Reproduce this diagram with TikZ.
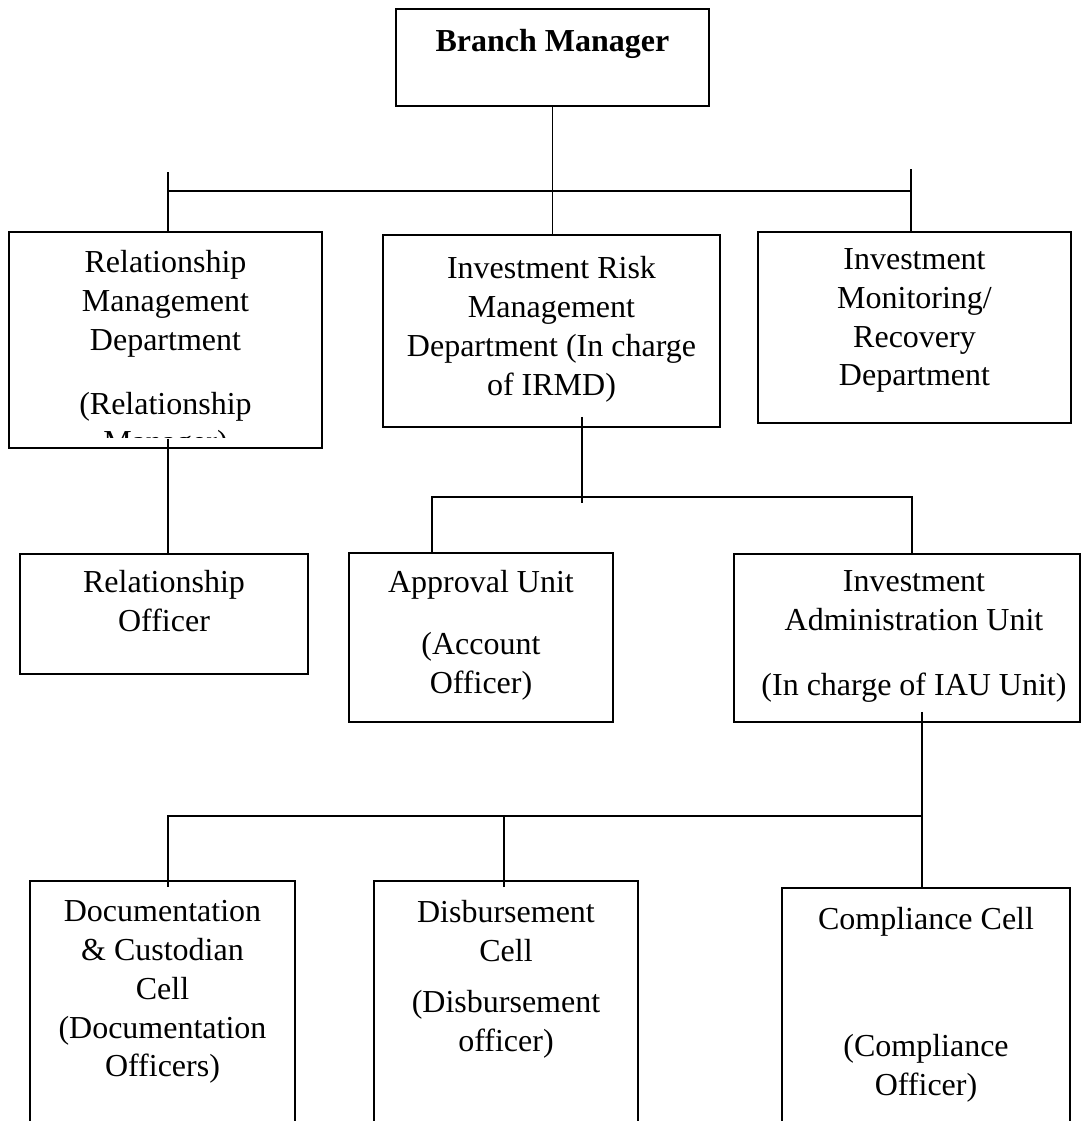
\documentclass[tikz,border=0pt]{standalone}
\usepackage{fontspec}
\setmainfont{Liberation Serif}
\usepackage{tikz}
\usetikzlibrary{positioning}

\begin{document}
\begin{tikzpicture}[x=0.5pt, y=-0.5pt, font=\fontsize{16}{19.4}\selectfont, every node/.style={inner sep=0pt}]
        \tikzset{
            box/.style={draw, line width=0.9pt},
            txt/.style={align=center},
            ln/.style={line width=0.8pt}
        }
        \clip (0,0) rectangle (1082,1121);
        \node[box, minimum width=156.5pt, minimum height=48.5pt] (bm) at (552.5,57.5) {};
        \node[box, minimum width=156.5pt, minimum height=108pt] (rmd) at (165.5,340) {};
        \node[box, minimum width=168.5pt, minimum height=96pt] (irmd) at (551.5,331) {};
        \node[box, minimum width=156.5pt, minimum height=95.5pt] (imrd) at (914.5,327.5) {};
        \node[box, minimum width=144pt, minimum height=60pt] (ro) at (164,614) {};
        \node[box, minimum width=132pt, minimum height=84.5pt] (au) at (481,637.5) {};
        \node[box, minimum width=173pt, minimum height=84pt] (iau) at (907,638) {};
        \node[box, minimum width=132.5pt, minimum height=159.5pt] (doc) at (162.5,1040.5) {};
        \node[box, minimum width=132pt, minimum height=159.5pt] (disb) at (506,1040.5) {};
        \node[box, minimum width=144pt, minimum height=156pt] (comp) at (926,1044) {};
        \node[txt, below=10.5pt of bm.north] (bmt) {\textbf{Branch Manager}};
        \begin{scope}
            \clip (9,232) rectangle (322,437);
            \node[txt, below=9.5pt of rmd.north] (rmdt) {Relationship\\Management\\Department\\[12.5pt](Relationship\\Manager)};
        \end{scope}
        \node[txt, below=11pt of irmd.north] (irmdt) {Investment Risk\\Management\\Department (In charge\\of IRMD)};
        \node[txt, below=8.5pt of imrd.north] (imrdt) {Investment\\Monitoring/\\Recovery\\Department};
        \node[txt, below=8.5pt of ro.north] (rot) {Relationship\\Officer};
        \node[txt, below=9pt of au.north] (aut) {Approval Unit\\[11.5pt](Account\\Officer)};
        \node[txt, below=8.5pt of iau.north, xshift=3.5pt] (iaut) {Investment\\Administration Unit\\[13pt](In charge of IAU Unit)};
        \node[txt, below=10pt of doc.north] (doct) {Documentation\\\& Custodian\\Cell\\(Documentation\\Officers)};
        \node[txt, below=10pt of disb.north] (disbt) {Disbursement\\Cell\\[6pt](Disbursement\\officer)};
        \node[txt, below=10pt of comp.north] (compt) {Compliance Cell\\[44pt](Compliance\\Officer)};
        \coordinate (b1) at (552,191);
        \coordinate (b1l) at (168,172);
        \coordinate (b1r) at (911,169);
        \draw[ln] (bm.south) -- (bm.south |- irmd.north);
        \draw[ln] (b1l |- b1) -- (b1r |- b1);
        \draw[ln] (b1l) -- (b1l |- rmd.north);
        \draw[ln] (b1r) -- (b1r |- imrd.north);
        \draw[ln] ([yshift=5pt]rmd.south -| b1l) -- (b1l |- ro.north);
        \coordinate (b2) at (582,497);
        \coordinate (b2l) at (432,497);
        \coordinate (b2r) at (912,497);
        \draw[ln] ([yshift=5.5pt]irmd.south -| b2) -- ([yshift=-3pt]b2);
        \draw[ln] (b2l |- au.north) -- (b2l) -- (b2r) -- (b2r |- iau.north);
        \coordinate (b3) at (922,816);
        \coordinate (b3l) at (168,887);
        \coordinate (b3m) at (504,887);
        \draw[ln] ([yshift=5.5pt]iau.south -| b3) -- (b3 |- comp.north);
        \draw[ln] (b3) -| (b3l);
        \draw[ln] (b3m) -- (b3m |- b3);
\end{tikzpicture}
\end{document}
